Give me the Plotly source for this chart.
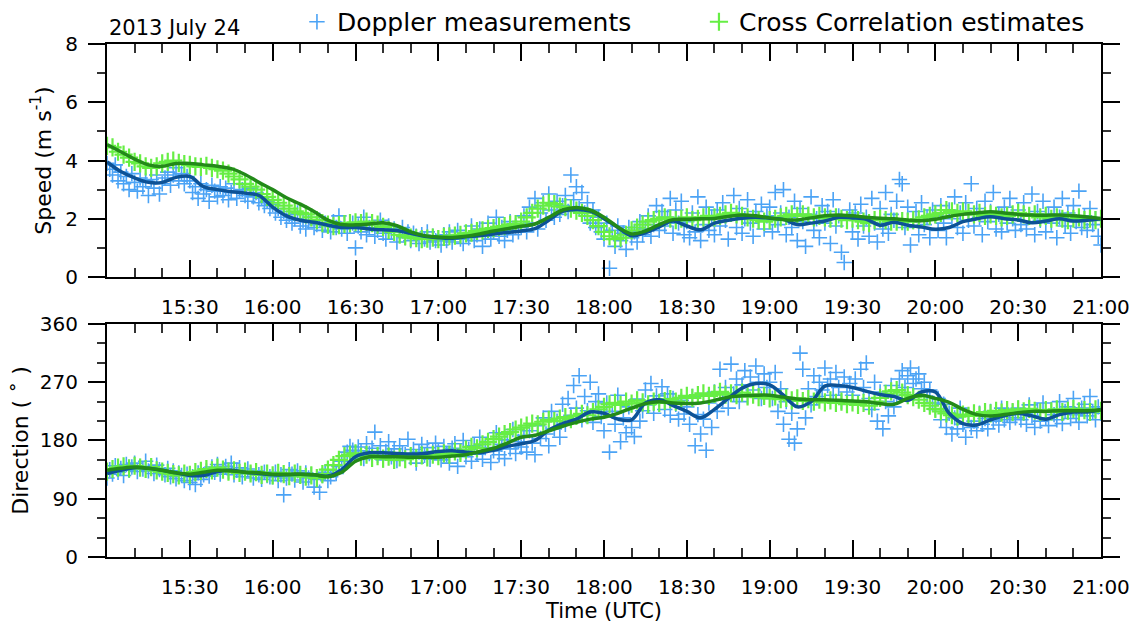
import pandas as pd
import plotly.graph_objects as go

# ---------------- data ----------------
day = "2013-07-24"
t_start = f"{day} 15:00"

# Doppler speed (m/s), 1-min samples 15:00 .. 21:00
doppler_speed = [
    3.90, 3.70, 3.50, 3.85, 3.30, 3.60, 3.20, 3.45, 3.00, 3.55, 3.25, 2.95, 3.40, 3.10, 3.30, 2.80, 3.35, 3.05, 3.50, 2.85, 3.20, 3.40, 3.60, 3.15, 3.50, 3.75, 3.30, 3.55, 3.20, 3.45,
    3.30, 2.90, 3.10, 2.70, 3.20, 2.85, 3.00, 2.60, 3.15, 2.95, 2.75, 3.10, 2.80, 3.05, 2.65, 2.90, 3.20, 2.70, 2.95, 3.00, 2.80, 2.60, 3.05, 2.75, 2.90, 2.55, 2.70, 2.45, 2.60, 2.35,
    2.50, 2.20, 2.35, 2.05, 2.25, 1.95, 2.15, 1.85, 2.00, 2.20, 1.75, 1.95, 1.65, 1.90, 2.05, 1.70, 1.80, 1.95, 1.60, 1.85, 1.75, 1.55, 1.90, 1.70, 2.10, 1.65, 1.80, 1.50, 1.75, 1.85,
    1.00, 1.75, 1.55, 2.05, 1.45, 1.70, 1.85, 1.40, 1.60, 1.95, 1.50, 1.30, 1.75, 1.55, 1.65, 1.20, 1.45, 1.70, 1.35, 1.55, 1.25, 1.50, 1.40, 1.15, 1.45, 1.30, 1.55, 1.20, 1.40, 1.25,
    1.35, 1.10, 1.45, 1.25, 1.55, 1.20, 1.40, 1.60, 1.30, 1.15, 1.50, 1.35, 1.75, 1.25, 1.45, 1.65, 1.05, 1.40, 1.85, 1.30, 1.55, 2.05, 1.40, 1.70, 1.25, 1.60, 1.90, 1.45, 1.75, 1.55,
    1.70, 2.10, 1.55, 2.40, 1.85, 2.70, 1.65, 2.20, 2.55, 1.95, 2.85, 2.30, 2.05, 2.60, 2.15, 2.45, 2.80, 2.25, 3.50, 2.65, 3.10, 2.35, 2.90, 2.20, 2.55, 1.85, 2.30, 1.70, 2.05, 1.55,
    1.30, 1.85, 0.30, 1.60, 1.05, 1.75, 1.25, 1.50, 0.95, 1.70, 1.35, 1.55, 1.20, 1.90, 1.45, 1.65, 2.10, 1.40, 1.80, 2.45, 1.60, 2.25, 1.75, 2.05, 2.70, 1.50, 2.30, 1.85, 2.60, 1.45,
    1.90, 1.35, 2.20, 1.55, 2.75, 1.25, 1.80, 2.40, 1.60, 2.05, 1.45, 2.30, 1.75, 2.55, 1.95, 1.30, 2.15, 2.80, 1.70, 2.35, 1.50, 2.00, 2.65, 1.85, 1.40, 2.25, 1.95, 2.50, 1.65, 2.10,
    2.40, 1.55, 2.90, 1.80, 2.20, 3.00, 1.45, 2.05, 1.70, 2.60, 1.25, 2.35, 1.90, 1.05, 2.15, 2.75, 1.60, 2.00, 1.35, 2.45, 1.85, 2.25, 1.15, 2.65, 1.75, 2.10, 0.85, 0.50, 1.95, 2.30,
    1.55, 2.20, 1.30, 2.50, 1.75, 2.05, 1.40, 2.70, 1.85, 1.20, 2.35, 1.65, 2.90, 1.50, 2.15, 1.95, 2.60, 3.35, 3.20, 1.70, 2.40, 1.10, 1.90, 2.25, 1.45, 2.55, 1.80, 2.05, 1.35, 2.30,
    2.10, 1.60, 2.45, 1.85, 1.35, 2.30, 2.00, 2.75, 1.70, 2.20, 1.50, 2.55, 1.95, 3.20, 1.75, 2.35, 2.05, 1.45, 2.60, 1.90, 2.25, 2.90, 1.65, 2.15, 1.55, 2.40, 1.85, 2.70, 2.00, 1.60,
    2.30, 1.80, 2.55, 1.65, 2.10, 2.85, 1.45, 2.25, 1.95, 2.60, 1.55, 2.15, 1.85, 2.40, 1.35, 2.05, 2.70, 1.75, 2.20, 1.50, 2.45, 1.90, 2.95, 1.70, 2.10, 1.60, 2.35, 1.80, 2.00, 1.40,
    1.10,
]

# Cross-correlation speed (m/s), 2-min samples
cc_speed = [
    4.50, 4.45, 4.30, 4.20, 4.10, 3.95, 3.90, 3.80, 3.75, 3.80, 3.90, 3.95, 4.00, 3.92, 3.88,
    3.85, 3.80, 3.78, 3.82, 3.75, 3.70, 3.65, 3.55, 3.45, 3.35, 3.20, 3.10, 3.00, 2.85, 2.75,
    2.65, 2.55, 2.45, 2.35, 2.25, 2.20, 2.15, 2.05, 1.95, 1.85, 1.80, 1.75, 1.78, 1.82, 1.85,
    1.88, 1.85, 1.90, 1.85, 1.80, 1.72, 1.62, 1.55, 1.45, 1.40, 1.35, 1.33, 1.30, 1.32, 1.35,
    1.30, 1.38, 1.40, 1.42, 1.45, 1.50, 1.52, 1.58, 1.60, 1.65, 1.68, 1.72, 1.75, 1.80, 1.82,
    1.90, 2.05, 2.20, 2.35, 2.45, 2.55, 2.50, 2.42, 2.40, 2.35, 2.28, 2.20, 2.10, 1.95, 1.75,
    1.55, 1.40, 1.30, 1.35, 1.45, 1.60, 1.70, 1.80, 1.90, 1.95, 2.00, 2.05, 2.00, 1.95, 2.00,
    2.05, 1.95, 2.00, 2.05, 2.10, 2.05, 2.10, 2.15, 2.20, 2.15, 2.10, 2.05, 2.00, 1.95, 1.90,
    1.95, 2.00, 2.05, 2.10, 2.15, 2.10, 2.15, 2.10, 2.05, 2.10, 2.05, 2.00, 2.05, 2.00, 1.95,
    2.00, 1.95, 1.90, 1.85, 1.95, 2.00, 1.95, 1.90, 1.90, 1.92, 1.90, 1.95, 1.98, 2.05, 2.10,
    2.15, 2.20, 2.30, 2.25, 2.20, 2.25, 2.20, 2.15, 2.20, 2.10, 2.15, 2.10, 2.05, 2.10, 2.15,
    2.20, 2.15, 2.10, 2.15, 2.05, 2.10, 2.00, 2.05, 2.00, 1.95, 2.00, 2.05, 1.95, 2.00, 1.95,
    2.00,
]

# Smoothed speed curves (m/s), 5-min samples
doppler_speed_smooth = [
    3.95, 3.62, 3.40, 3.25, 3.25, 3.42, 3.45, 3.10, 3.00, 2.93, 2.88, 2.80, 2.40,
    2.10, 1.95, 1.88, 1.78, 1.70, 1.70, 1.65, 1.62, 1.60, 1.50, 1.40, 1.35, 1.33,
    1.38, 1.42, 1.48, 1.53, 1.58, 1.66, 1.95, 2.25, 2.32, 2.26, 2.00, 1.70, 1.42,
    1.52, 1.72, 1.92, 1.75, 1.62, 1.85, 1.95, 2.02, 2.05, 2.02, 1.98, 1.80, 1.85,
    1.92, 2.05, 2.03, 1.98, 1.78, 1.88, 1.78, 1.72, 1.64, 1.70, 1.90, 2.00, 2.07,
    2.00, 1.96, 1.86, 1.92, 2.00, 1.92, 1.95, 2.00,
]
cc_speed_smooth = [
    4.55, 4.30, 4.05, 3.85, 3.80, 3.90, 3.90, 3.85, 3.80, 3.72, 3.52, 3.25, 3.00,
    2.72, 2.50, 2.25, 1.95, 1.80, 1.79, 1.82, 1.86, 1.76, 1.55, 1.42, 1.37, 1.36,
    1.40, 1.48, 1.58, 1.66, 1.74, 1.82, 2.05, 2.30, 2.39, 2.30, 2.05, 1.72, 1.48,
    1.58, 1.80, 1.97, 1.98, 2.00, 2.01, 2.08, 2.13, 2.10, 2.03, 1.97, 1.96, 2.03,
    2.10, 2.13, 2.10, 2.05, 2.02, 2.00, 1.96, 1.93, 1.98, 2.08, 2.15, 2.20, 2.24,
    2.20, 2.15, 2.13, 2.12, 2.13, 2.10, 2.06, 2.01,
]

# Doppler direction (deg), 1-min samples
doppler_dir = [
    122, 135, 128, 141, 131, 137, 126, 143, 134, 139, 145, 132, 140, 136, 148, 133, 138, 129, 142, 135, 131, 127, 137, 124, 133, 121, 130, 126, 118, 128,
    115, 124, 112, 130, 120, 127, 133, 125, 139, 131, 143, 128, 136, 140, 132, 145, 127, 134, 138, 124, 131, 136, 129, 122, 133, 127, 120, 131, 126, 124,
    124, 131, 118, 127, 96, 122, 135, 128, 119, 133, 125, 116, 130, 122, 127, 108, 120, 100, 126, 131, 118, 124, 134, 129, 140, 148, 156, 162, 171, 165,
    158, 170, 164, 152, 175, 160, 168, 193, 157, 172, 150, 163, 178, 155, 167, 149, 172, 160, 158, 182, 154, 166, 145, 162, 174, 157, 169, 151, 163, 176,
    163, 150, 171, 158, 145, 168, 175, 140, 162, 180, 155, 166, 148, 172, 159, 185, 151, 169, 177, 146, 164, 192, 158, 174, 152, 181, 167, 197, 160, 178,
    170, 188, 162, 195, 176, 158, 203, 183, 215, 190, 172, 225, 198, 210, 185, 236, 205, 245, 219, 265, 230, 280, 212, 248, 226, 270, 208, 240, 252, 217,
    195, 238, 162, 225, 205, 250, 178, 215, 192, 232, 200, 186, 244, 210, 226, 258, 235, 268, 222, 249, 240, 263, 228, 252, 219, 245, 236, 213, 242, 221,
    232, 205, 248, 172, 220, 190, 213, 165, 238, 200, 255, 225, 290, 243, 262, 230, 298, 252, 275, 240, 266, 288, 248, 278, 258, 295, 270, 245, 283, 262,
    270, 245, 285, 225, 260, 205, 240, 182, 222, 176, 198, 315, 290, 215, 260, 235, 280, 248, 270, 258, 292, 265, 275, 250, 285, 262, 240, 278, 255, 268,
    250, 275, 238, 290, 262, 300, 245, 228, 270, 210, 255, 198, 240, 218, 265, 232, 250, 275, 288, 262, 280, 292, 268, 275, 283, 260, 270, 248, 258, 238,
    228, 245, 212, 236, 200, 222, 190, 215, 198, 230, 205, 185, 218, 200, 210, 195, 222, 205, 214, 198, 225, 210, 218, 204, 230, 212, 220, 208, 225, 215,
    230, 212, 222, 205, 235, 218, 200, 226, 210, 238, 215, 203, 228, 220, 212, 240, 206, 225, 232, 214, 245, 220, 208, 230, 236, 218, 248, 225, 212, 232,
    222,
]

# Cross-correlation direction (deg), 2-min samples
cc_dir = [
    132, 136, 138, 140, 137, 141, 138, 136, 139, 134, 132, 130, 128, 126, 129,
    127, 131, 133, 136, 134, 138, 135, 132, 134, 130, 132, 129, 131, 127, 129,
    126, 130, 128, 125, 129, 127, 124, 126, 122, 128, 135, 142, 150, 156, 158,
    160, 155, 158, 153, 156, 152, 155, 150, 154, 151, 156, 153, 157, 154, 158,
    156, 160, 158, 163, 161, 166, 170, 168, 174, 178, 182, 186, 190, 193, 197,
    200, 203, 206, 205, 209, 212, 210, 214, 216, 213, 218, 221, 219, 224, 228,
    232, 236, 238, 235, 240, 237, 242, 239, 236, 240, 238, 241, 244, 240, 246,
    249, 246, 250, 253, 249, 252, 255, 251, 253, 250, 254, 248, 251, 247, 249,
    245, 248, 244, 246, 242, 245, 241, 244, 240, 243, 239, 242, 238, 240, 236,
    239, 235, 238, 234, 240, 246, 252, 256, 258, 254, 250, 247, 243, 238, 234,
    229, 225, 222, 219, 217, 220, 218, 222, 219, 224, 222, 226, 223, 227, 224,
    228, 225, 229, 226, 224, 227, 225, 228, 224, 226, 229, 225, 227, 224, 228,
    226,
]

# Smoothed direction curves (deg), 5-min samples
doppler_dir_smooth = [
    129, 134, 138, 137, 134, 130, 126, 126, 132, 134, 131, 129, 127,
    127, 128, 127, 125, 135, 155, 161, 161, 160, 159, 160, 163, 164,
    162, 161, 165, 171, 175, 180, 196, 206, 213, 224, 222, 213, 212,
    238, 243, 234, 225, 215, 228, 245, 261, 268, 266, 250, 232, 240,
    264, 265, 262, 256, 251, 248, 242, 255, 255, 222, 206, 204, 212,
    218, 222, 218, 213, 220, 224, 224, 228,
]
cc_dir_smooth = [
    134, 137, 139, 137, 134, 130, 128, 131, 134, 133, 131, 130, 128,
    128, 128, 127, 124, 131, 148, 155, 155, 155, 154, 154, 154, 156,
    158, 163, 168, 176, 185, 188, 195, 202, 208, 213, 216, 222, 230,
    237, 240, 238, 237, 238, 242, 247, 249, 250, 250, 247, 244, 243,
    243, 242, 241, 240, 237, 236, 245, 250, 245, 239, 228, 220, 218,
    220, 223, 225, 225, 226, 226, 226, 227,
]

# time grids
t1 = pd.date_range(t_start, periods=len(doppler_speed), freq="1min")
t2 = pd.date_range(t_start, periods=len(cc_speed), freq="2min")
t5 = pd.date_range(t_start, periods=len(doppler_speed_smooth), freq="5min")

tick_vals = pd.date_range(f"{day} 15:30", f"{day} 21:00", freq="30min")
tick_text = [t.strftime("%H:%M") for t in tick_vals]

# ---------------- styling ----------------
C_DOP = "#4ba3f5"
C_CC = "#66ee44"
C_DOP_LINE = "#0d5296"
C_CC_LINE = "#238a19"
FONT = "DejaVu Sans"

fig = go.Figure()

def add_panel(xa, ya, dop, cc, dop_s, cc_s, show):
    fig.add_trace(go.Scatter(x=t1, y=dop, mode="markers", name="Doppler measurements",
                             marker=dict(symbol="cross-thin", size=11, line=dict(width=1.6, color=C_DOP), color=C_DOP),
                             xaxis=xa, yaxis=ya, showlegend=show))
    fig.add_trace(go.Scatter(x=t2, y=cc, mode="markers", name="Cross Correlation estimates",
                             marker=dict(symbol="cross-thin", size=13, line=dict(width=2.2, color=C_CC), color=C_CC),
                             xaxis=xa, yaxis=ya, showlegend=show))
    fig.add_trace(go.Scatter(x=t5, y=dop_s, mode="lines", line=dict(color=C_DOP_LINE, width=3.5, shape="spline"),
                             xaxis=xa, yaxis=ya, showlegend=False, hoverinfo="skip"))
    fig.add_trace(go.Scatter(x=t5, y=cc_s, mode="lines", line=dict(color=C_CC_LINE, width=3.5, shape="spline"),
                             xaxis=xa, yaxis=ya, showlegend=False, hoverinfo="skip"))

add_panel("x", "y", doppler_speed, cc_speed, doppler_speed_smooth, cc_speed_smooth, True)
add_panel("x2", "y2", doppler_dir, cc_dir, doppler_dir_smooth, cc_dir_smooth, False)

xcommon = dict(
    type="date", range=[f"{day} 15:00", f"{day} 21:00"],
    tickmode="array", tickvals=tick_vals, ticktext=tick_text,
    ticks="inside", ticklen=17, tickwidth=1.5, tickcolor="black",
    minor=dict(tickmode="linear", tick0=f"{day} 15:00", dtick=600000, ticks="inside",
               ticklen=9, tickwidth=1.5, tickcolor="#333"),
    showline=True, linewidth=2, linecolor="black", mirror="ticks",
    showgrid=False, zeroline=False, automargin=False,
    tickfont=dict(family=FONT, size=20, color="black"),
    ticklabelstandoff=11,
)
ycommon = dict(
    ticks="outside", ticklen=17, tickwidth=1.5, tickcolor="black",
    showline=True, linewidth=2, linecolor="black", mirror="ticks",
    showgrid=False, zeroline=False, automargin=False,
    tickfont=dict(family=FONT, size=20, color="black"),
    ticklabelstandoff=6,
)

# page body has an 8px margin, so the figure is 8px smaller and margins shifted
fig.update_layout(
    width=1130, height=619,
    margin=dict(l=99, r=37, t=36, b=70, autoexpand=False),
    paper_bgcolor="white", plot_bgcolor="white",
    font=dict(family=FONT, size=20, color="black"),
    xaxis=dict(**xcommon, domain=[0, 1], anchor="y"),
    xaxis2=dict(**xcommon, domain=[0, 1], anchor="y2",
                title=dict(text="Time (UTC)", font=dict(family=FONT, size=21), standoff=0)),
    yaxis=dict(**ycommon, domain=[0.5458, 1], anchor="x", range=[0, 8], tickvals=[0, 2, 4, 6, 8],
               minor=dict(tickvals=[1, 3, 5, 7], ticks="outside", ticklen=8, tickwidth=1.5, tickcolor="#333"),
               title=dict(text="Speed (m s<sup>-1</sup>)", font=dict(family=FONT, size=22), standoff=8)),
    yaxis2=dict(**ycommon, domain=[0, 0.4542], anchor="x2", range=[0, 360], tickvals=[0, 90, 180, 270, 360],
                minor=dict(tickvals=[30, 60, 120, 150, 210, 240, 300, 330], ticks="outside", ticklen=8,
                           tickwidth=1.5, tickcolor="#333"),
                title=dict(text="Direction ( ˚ )", font=dict(family=FONT, size=22), standoff=8)),
    legend=dict(orientation="h", xref="paper", yref="paper", x=0.1911, xanchor="left",
                y=1.0429, yanchor="middle",
                font=dict(family=FONT, size=25, color="black"), bgcolor="rgba(0,0,0,0)",
                entrywidth=357, itemwidth=30),
    annotations=[dict(text="2013 July 24", xref="paper", yref="paper", x=0, y=1, xanchor="left",
                      yanchor="bottom", yshift=2, showarrow=False,
                      font=dict(family=FONT, size=21, color="black"))],
)

fig.write_html("out.html")
